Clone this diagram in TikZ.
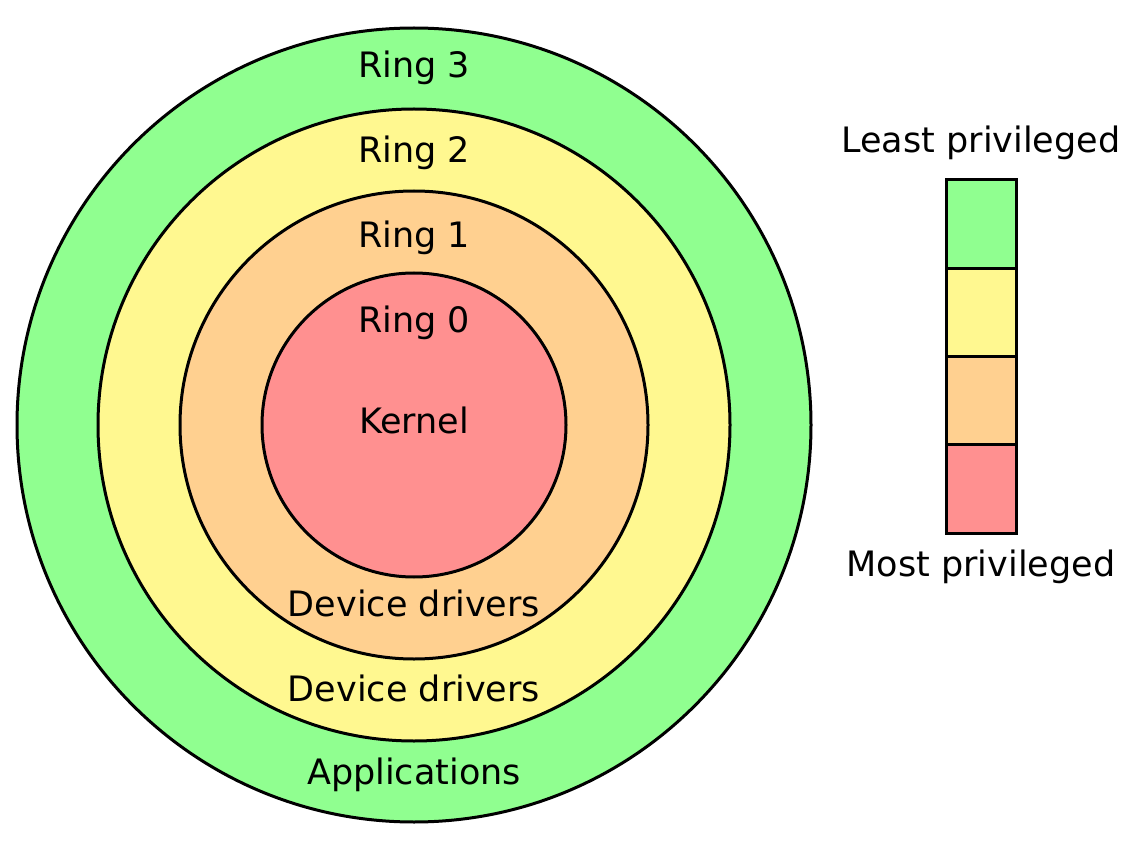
\documentclass[tikz,border=0pt]{standalone}
\usepackage{fontspec}
\setmainfont{DejaVu Sans}
\definecolor{rgreen}{RGB}{144,255,144}
\definecolor{ryellow}{RGB}{255,248,144}
\definecolor{rorange}{RGB}{255,208,144}
\definecolor{rred}{RGB}{255,144,144}
\begin{document}
\begin{tikzpicture}[x=1pt,y=-1pt,
  ringc/.style={draw=black,line width=3pt},
  lbl/.style={anchor=base,inner sep=0pt,font=\fontsize{35}{42}\selectfont},
  seg/.style={draw=black,line width=3pt,minimum width=70pt,minimum height=88.25pt,inner sep=0pt,outer sep=0pt}]
\useasboundingbox (0,0) rectangle (1144,861);
\coordinate (c) at (414,425);
\fill[white] (0,0) rectangle (1144,861);
\draw[ringc,fill=rgreen] (c) circle (397);
\draw[ringc,fill=ryellow] (c) circle (316);
\draw[ringc,fill=rorange] (c) circle (234);
\draw[ringc,fill=rred] (c) circle (152);
\node[lbl] (r3) at (414,78) {Ring 3};
\node[lbl] (r2) at (414,163) {Ring 2};
\node[lbl] (r1) at (414,248) {Ring 1};
\node[lbl] (r0) at (414,332) {Ring 0};
\node[lbl] (k) at (414,433) {Kernel};
\node[lbl] (d1) at (414,616) {Device drivers};
\node[lbl] (d2) at (414,701) {Device drivers};
\node[lbl] (ap) at (414,784) {Applications};
\node[seg,fill=rgreen] (s3) at (981,224.1) {};
\node[seg,fill=ryellow] (s2) at (981,312.4) {};
\node[seg,fill=rorange] (s1) at (981,400.6) {};
\node[seg,fill=rred] (s0) at (981,488.9) {};
\node[lbl] (lp) at (981,153) {Least privileged};
\node[lbl] (mp) at (981,576) {Most privileged};
\end{tikzpicture}
\end{document}
